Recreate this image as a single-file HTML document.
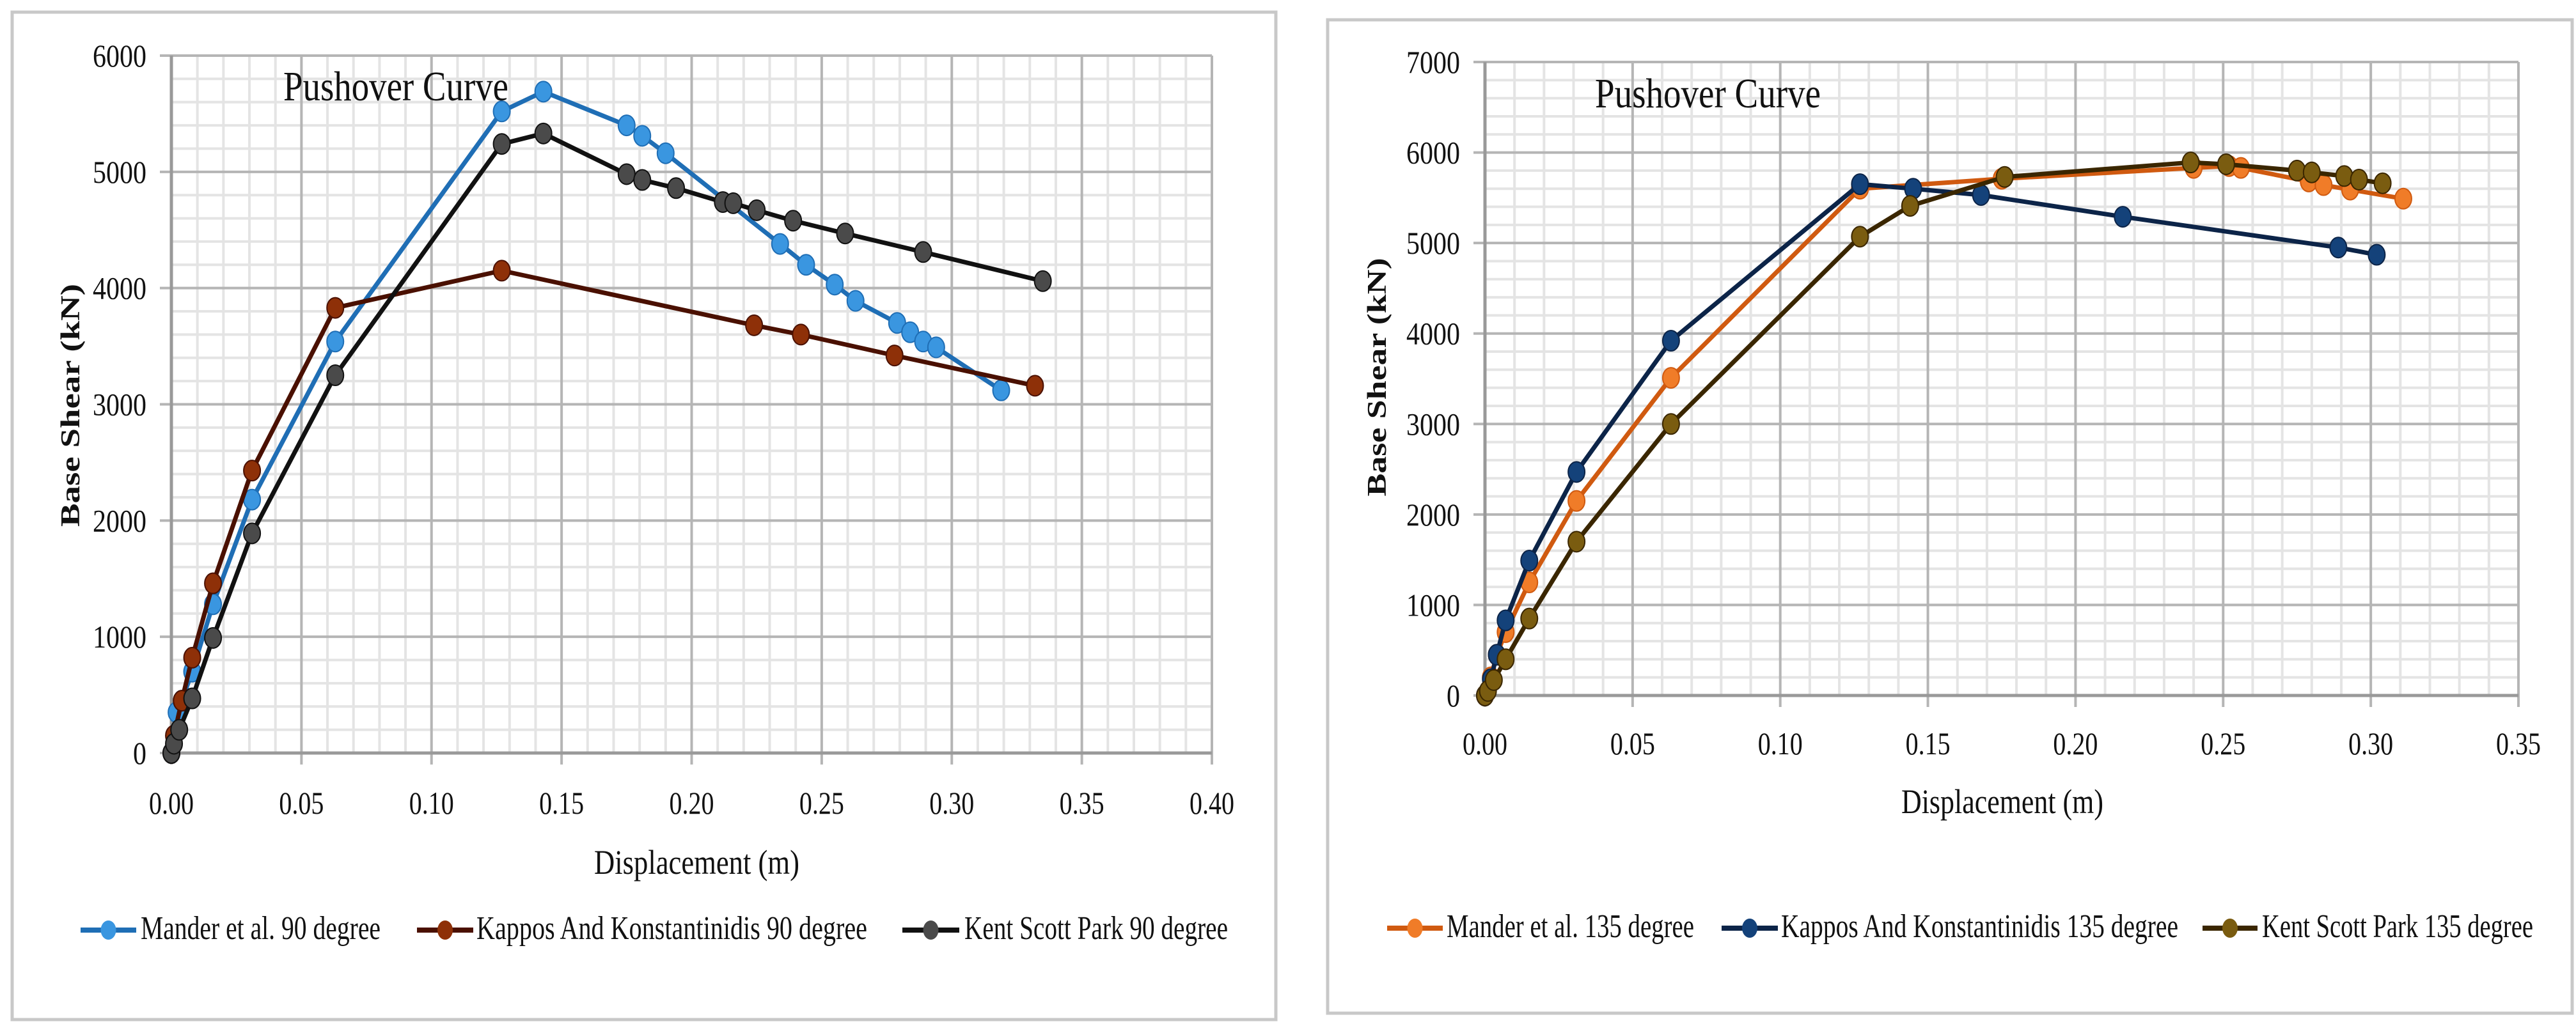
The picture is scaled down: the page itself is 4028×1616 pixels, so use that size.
<!DOCTYPE html>
<html><head><meta charset="utf-8"><style>
html,body{margin:0;padding:0;background:#fff;}
svg{display:block;}
text{font-family:"Liberation Serif",serif;fill:#111;}
</style></head>
<body>
<svg id="root" xmlns="http://www.w3.org/2000/svg" width="4028" height="1616" viewBox="0 0 4028 1616">
<rect x="19" y="19" width="1976" height="1576" fill="#fff" stroke="#c8c8c8" stroke-width="5"/>
<rect x="2076" y="31" width="1946" height="1554" fill="#fff" stroke="#c8c8c8" stroke-width="5"/>
<g id="left"></g>
<g id="right"></g>
</svg>
<script>
// ---- Left chart data (90 degree) ----
const leftXTicks = ["0.00","0.05","0.10","0.15","0.20","0.25","0.30","0.35","0.40"];
const leftYTicks = ["0","1000","2000","3000","4000","5000","6000"];
const manderX90 = [0,0.002,0.004,0.008,0.016,0.031,0.063,0.127,0.143,0.175,0.181,0.190,0.234,0.244,0.255,0.263,0.279,0.284,0.289,0.294,0.319];
const manderY90 = [0,350,450,700,1280,2180,3540,5520,5690,5400,5310,5160,4380,4200,4030,3890,3700,3620,3540,3490,3120];
const kapposX90 = [0,0.001,0.004,0.008,0.016,0.031,0.063,0.127,0.224,0.242,0.278,0.332];
const kapposY90 = [0,150,450,820,1460,2430,3830,4150,3680,3600,3420,3160];
const kentX90 = [0,0.001,0.003,0.008,0.016,0.031,0.063,0.127,0.143,0.175,0.181,0.194,0.212,0.216,0.225,0.239,0.259,0.289,0.335];
const kentY90 = [0,80,200,470,990,1890,3250,5240,5330,4980,4930,4860,4740,4730,4670,4580,4470,4310,4060];
// ---- Right chart data (135 degree) ----
const rightXTicks = ["0.00","0.05","0.10","0.15","0.20","0.25","0.30","0.35"];
const rightYTicks = ["0","1000","2000","3000","4000","5000","6000","7000"];
const manderX135 = [0,0.002,0.004,0.007,0.015,0.031,0.063,0.127,0.175,0.240,0.252,0.256,0.279,0.284,0.293,0.311];
const manderY135 = [0,200,450,700,1250,2150,3510,5600,5710,5830,5850,5830,5680,5640,5590,5490];
const kapposX135 = [0,0.002,0.004,0.007,0.015,0.031,0.063,0.127,0.145,0.168,0.216,0.289,0.302];
const kapposY135 = [0,180,450,830,1490,2470,3920,5650,5600,5530,5290,4950,4870];
const kentX135 = [0,0.001,0.003,0.007,0.015,0.031,0.063,0.127,0.144,0.176,0.239,0.251,0.275,0.280,0.291,0.296,0.304];
const kentY135 = [0,50,170,400,850,1700,3000,5070,5410,5730,5890,5870,5800,5780,5740,5700,5660];

const NS = "http://www.w3.org/2000/svg";
function mk(parent, tag, attrs, txt){
  const e = document.createElementNS(NS, tag);
  for (const k in attrs) e.setAttribute(k, attrs[k]);
  if (txt !== undefined) e.textContent = txt;
  parent.appendChild(e);
  return e;
}

function drawChart(g, cfg){
  const xs = v => cfg.x0 + (v - 0) / cfg.xMax * (cfg.x1 - cfg.x0);
  const ys = v => cfg.y0 - v / cfg.yMax * (cfg.y0 - cfg.y1);
  const nx = cfg.xTicks.length - 1, ny = cfg.yTicks.length - 1;
  // minor grid
  for (let i = 0; i < nx * 5; i++) {
    if (i % 5 === 0) continue;
    const x = xs(cfg.xMax * i / (nx * 5));
    const l = mk(g, "line", {x1:x, x2:x, y1:cfg.y1, y2:cfg.y0, stroke:"#e4e4e4", "stroke-width":4});
    
    
  }
  for (let i = 0; i < ny * 5; i++) {
    if (i % 5 === 0) continue;
    const y = ys(cfg.yMax * i / (ny * 5));
    const l = mk(g, "line", {x1:cfg.x0, x2:cfg.x1, y1:y, y2:y, stroke:"#e4e4e4", "stroke-width":4});
    
    
  }
  // major grid + ticks
  cfg.xTicks.forEach((t, i) => {
    const x = xs(cfg.xMax * i / nx);
    const l = mk(g, "line", {x1:x, x2:x, y1:cfg.y1, y2:cfg.y0 + 18, stroke:"#b5b5b5", "stroke-width":4});
    
    
    const tx = mk(g, "text", {x:x, y:cfg.xLabelY, "text-anchor":"middle", "font-size":50, textLength:70, lengthAdjust:"spacingAndGlyphs"}, t);
    
    
  });
  cfg.yTicks.forEach((t, i) => {
    const y = ys(cfg.yMax * i / ny);
    const l = mk(g, "line", {x1:cfg.x0 - 18, x2:cfg.x1, y1:y, y2:y, stroke:"#b5b5b5", "stroke-width":4});
    
    
    const tx = mk(g, "text", {x:cfg.yLabelX, y:y + 17, "text-anchor":"end", "font-size":50, textLength:t.length * 21, lengthAdjust:"spacingAndGlyphs"}, t);
    
    
  });
  // axes
  const ax = mk(g, "line", {x1:cfg.x0, x2:cfg.x1, y1:cfg.y0, y2:cfg.y0, stroke:"#999", "stroke-width":5});
  
  
  const ay = mk(g, "line", {x1:cfg.x0, x2:cfg.x0, y1:cfg.y1, y2:cfg.y0, stroke:"#999", "stroke-width":5});
  
  
  // titles
  const tt = mk(g, "text", {x:cfg.title[0], y:cfg.title[1], "font-size":66, textLength:cfg.title[2], lengthAdjust:"spacingAndGlyphs"}, "Pushover Curve");
  
  
  const xt = mk(g, "text", {x:cfg.xTitle[0], y:cfg.xTitle[1], "font-size":54, textLength:cfg.xTitle[2], lengthAdjust:"spacingAndGlyphs"}, "Displacement (m)");
  
  
  const yt = mk(g, "text", {x:0, y:0, "font-size":42, "font-weight":"bold", "font-family":"Liberation Serif, serif", textLength:cfg.yTitle[2], lengthAdjust:"spacingAndGlyphs", "text-anchor":"middle", transform:`translate(${cfg.yTitle[0]},${cfg.yTitle[1]}) rotate(-90)`}, "Base Shear (kN)");
  
  
  // series
  cfg.series.forEach(s => {
    const pts = s.xs.map((v, i) => xs(v) + "," + ys(s.ys[i])).join(" ");
    const pl = mk(g, "polyline", {points:pts, fill:"none", stroke:s.line, "stroke-width":7, "stroke-linejoin":"round"});
    
    
    s.xs.forEach((v, i) => {
      const c = mk(g, "ellipse", {cx:xs(v), cy:ys(s.ys[i]), rx:13, ry:16, fill:s.marker, stroke:s.line, "stroke-width":2});
      
      
    });
    // legend
    const lg = mk(g, "g", {});
    
    
    mk(lg, "line", {x1:s.leg[0], x2:s.leg[1], y1:cfg.legY - 14, y2:cfg.legY - 14, stroke:s.line, "stroke-width":8});
    mk(lg, "ellipse", {cx:(s.leg[0] + s.leg[1]) / 2, cy:cfg.legY - 14, rx:12, ry:15, fill:s.marker});
    mk(lg, "text", {x:s.leg[2], y:cfg.legY, "font-size":52, textLength:s.leg[3], lengthAdjust:"spacingAndGlyphs"}, s.label);
  });
}

drawChart(document.getElementById("left"), {
  x0:268, x1:1895, y0:1178, y1:87, xMax:0.40, yMax:6000,
  xTicks:leftXTicks, yTicks:leftYTicks, xLabelY:1273, yLabelX:229, legY:1469,
  title:[443,157,352], xTitle:[929,1367,321], yTitle:[124,634,380],
  series:[
    {name:"mander-90", xs:manderX90, ys:manderY90, line:"#1f6eb5", marker:"#3a96e0", label:"Mander et al. 90 degree", leg:[126,213,220,375]},
    {name:"kappos-90", xs:kapposX90, ys:kapposY90, line:"#4a1000", marker:"#8e3008", label:"Kappos And Konstantinidis 90 degree", leg:[652,740,745,611]},
    {name:"kent-90", xs:kentX90, ys:kentY90, line:"#111111", marker:"#4a4a4a", label:"Kent Scott Park 90 degree", leg:[1411,1500,1508,412]}
  ]
});
drawChart(document.getElementById("right"), {
  x0:2322, x1:3938, y0:1088, y1:97, xMax:0.35, yMax:7000,
  xTicks:rightXTicks, yTicks:rightYTicks, xLabelY:1180, yLabelX:2283, legY:1466,
  title:[2494,168,353], xTitle:[2973,1272,316], yTitle:[2167,590,373],
  series:[
    {name:"mander-135", xs:manderX135, ys:manderY135, line:"#d05a10", marker:"#f07c28", label:"Mander et al. 135 degree", leg:[2169,2256,2262,387]},
    {name:"kappos-135", xs:kapposX135, ys:kapposY135, line:"#0c2448", marker:"#14427a", label:"Kappos And Konstantinidis 135 degree", leg:[2692,2780,2785,621]},
    {name:"kent-135", xs:kentX135, ys:kentY135, line:"#3a2600", marker:"#7a5c10", label:"Kent Scott Park 135 degree", leg:[3444,3530,3537,424]}
  ]
});
</script>
</body></html>
